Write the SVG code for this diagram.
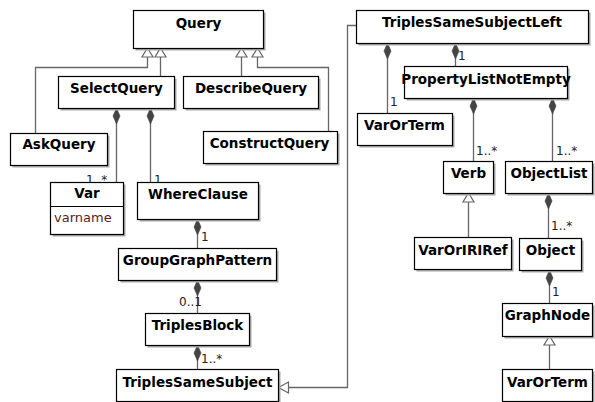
<svg xmlns="http://www.w3.org/2000/svg" width="595" height="402" viewBox="0 0 595 402">
  <style>
    .box { fill: #ffffff; stroke: #000000; stroke-width: 1.2; }
    .shadow { fill: #a8a8a8; }
    .name { font-family: "DejaVu Sans", sans-serif; font-weight: bold; font-size: 13.5px; fill: #000000; text-anchor: middle; }
    .attr { font-family: "DejaVu Sans", sans-serif; font-size: 13px; fill: #5a1c1c; }
    .mult { font-family: "DejaVu Sans", sans-serif; font-size: 12px; fill: #222222; }
    .line { fill: none; stroke: #666666; stroke-width: 1.3; }
    .diamond { fill: #444444; stroke: #444444; stroke-width: 0.6; }
    .tri { fill: #ffffff; stroke: #666666; stroke-width: 1.2; }
  </style>
  <defs>
    <!-- composition diamond, anchored at its top point -->
    <polygon id="dia" class="diamond" points="0,0 3.5,8 0,16 -3.5,8"/>
    <!-- generalization arrowhead, tip at origin pointing up -->
    <polygon id="triUp" class="tri" points="0,0 5.5,9 -5.5,9"/>
  </defs>

  <rect width="595" height="402" fill="#ffffff"/>

  <!-- connectors -->
  <g id="connectors">
    <!-- generalizations to Query -->
    <path class="line" d="M35.5,133 V67.5 H147.5 V57"/>
    <path class="line" d="M160.5,76 V57"/>
    <path class="line" d="M241.5,76 V57"/>
    <path class="line" d="M328.5,131 V67.5 H257.5 V57"/>
    <use href="#triUp" x="147.5" y="48"/>
    <use href="#triUp" x="160.5" y="48"/>
    <use href="#triUp" x="241.5" y="48"/>
    <use href="#triUp" x="257.5" y="48"/>

    <!-- compositions, left part -->
    <path class="line" d="M116.5,108 V182"/>
    <use href="#dia" x="116.5" y="108"/>
    <path class="line" d="M150.5,108 V182"/>
    <use href="#dia" x="150.5" y="108"/>
    <path class="line" d="M197.5,219 V248"/>
    <use href="#dia" x="197.5" y="219"/>
    <path class="line" d="M197.5,280 V313"/>
    <use href="#dia" x="197.5" y="280"/>
    <path class="line" d="M197.5,345 V369"/>
    <use href="#dia" x="197.5" y="345"/>

    <!-- TriplesSameSubjectLeft specializes TriplesSameSubject -->
    <path class="line" d="M356,25.5 H347.5 V387.5 H288"/>
    <polygon class="tri" points="278.5,387.5 288.5,382 288.5,393"/>

    <!-- compositions, right part -->
    <path class="line" d="M387.5,43 V113"/>
    <use href="#dia" x="387.5" y="43"/>
    <path class="line" d="M455.5,43 V66"/>
    <use href="#dia" x="455.5" y="43"/>
    <path class="line" d="M473.5,98 V161"/>
    <use href="#dia" x="473.5" y="98"/>
    <path class="line" d="M552.5,98 V161"/>
    <use href="#dia" x="552.5" y="98"/>
    <path class="line" d="M548.5,193 V238"/>
    <use href="#dia" x="548.5" y="193"/>
    <path class="line" d="M549.5,270 V303"/>
    <use href="#dia" x="549.5" y="270"/>

    <!-- generalizations, right part -->
    <path class="line" d="M468.5,237 V202"/>
    <use href="#triUp" x="468.5" y="193"/>
    <path class="line" d="M549.5,369 V345"/>
    <use href="#triUp" x="549.5" y="336"/>

    <!-- multiplicities -->
    <text class="mult" x="86" y="184">1..*</text>
    <text class="mult" x="154" y="184">1</text>
    <text class="mult" x="201" y="241">1</text>
    <text class="mult" x="179" y="306">0..1</text>
    <text class="mult" x="201" y="363">1..*</text>
    <text class="mult" x="390" y="106">1</text>
    <text class="mult" x="458" y="60">1</text>
    <text class="mult" x="476" y="155">1..*</text>
    <text class="mult" x="556" y="155">1..*</text>
    <text class="mult" x="551" y="230">1..*</text>
    <text class="mult" x="552" y="296">1</text>
  </g>

  <!-- nodes -->
  <g id="Query">
    <rect class="shadow" x="135.5" y="12.5" width="130" height="38"/>
    <rect class="box" x="133.5" y="10.5" width="130" height="38"/>
    <text class="name" x="198.5" y="28">Query</text>
  </g>
  <g id="SelectQuery">
    <rect class="shadow" x="60.5" y="78.5" width="116" height="32"/>
    <rect class="box" x="58.5" y="76.5" width="116" height="32"/>
    <text class="name" x="116.5" y="93">SelectQuery</text>
  </g>
  <g id="DescribeQuery">
    <rect class="shadow" x="185.5" y="78.5" width="135" height="32"/>
    <rect class="box" x="183.5" y="76.5" width="135" height="32"/>
    <text class="name" x="251" y="93">DescribeQuery</text>
  </g>
  <g id="AskQuery">
    <rect class="shadow" x="12.5" y="135.5" width="97" height="32"/>
    <rect class="box" x="10.5" y="133.5" width="97" height="32"/>
    <text class="name" x="59" y="149">AskQuery</text>
  </g>
  <g id="ConstructQuery">
    <rect class="shadow" x="205.5" y="133.5" width="134" height="32"/>
    <rect class="box" x="203.5" y="131.5" width="134" height="32"/>
    <text class="name" x="269.5" y="148">ConstructQuery</text>
  </g>
  <g id="Var">
    <rect class="shadow" x="52.5" y="184.5" width="73" height="52"/>
    <rect class="box" x="50.5" y="182.5" width="73" height="52"/>
    <line x1="50.5" y1="206.5" x2="123.5" y2="206.5" stroke="#000000" stroke-width="1.2"/>
    <text class="name" x="87" y="198">Var</text>
    <text class="attr" x="54" y="222">varname</text>
  </g>
  <g id="WhereClause">
    <rect class="shadow" x="139.5" y="184.5" width="121" height="37"/>
    <rect class="box" x="137.5" y="182.5" width="121" height="37"/>
    <text class="name" x="198" y="199">WhereClause</text>
  </g>
  <g id="GroupGraphPattern">
    <rect class="shadow" x="120.5" y="250.5" width="158" height="32"/>
    <rect class="box" x="118.5" y="248.5" width="158" height="32"/>
    <text class="name" x="197.5" y="265">GroupGraphPattern</text>
  </g>
  <g id="TriplesBlock">
    <rect class="shadow" x="147.5" y="315.5" width="104" height="32"/>
    <rect class="box" x="145.5" y="313.5" width="104" height="32"/>
    <text class="name" x="197.5" y="330">TriplesBlock</text>
  </g>
  <g id="TriplesSameSubject">
    <rect class="shadow" x="118.5" y="371.5" width="162" height="32"/>
    <rect class="box" x="116.5" y="369.5" width="162" height="32"/>
    <text class="name" x="197.5" y="387">TriplesSameSubject</text>
  </g>
  <g id="TriplesSameSubjectLeft">
    <rect class="shadow" x="358.5" y="12.5" width="232" height="33"/>
    <rect class="box" x="356.5" y="10.5" width="232" height="33"/>
    <text class="name" x="472" y="27">TriplesSameSubjectLeft</text>
  </g>
  <g id="PropertyListNotEmpty">
    <rect class="shadow" x="406.5" y="68.5" width="163" height="32"/>
    <rect class="box" x="404.5" y="66.5" width="163" height="32"/>
    <text class="name" x="486" y="84">PropertyListNotEmpty</text>
  </g>
  <g id="VarOrTerm1">
    <rect class="shadow" x="359.5" y="115.5" width="95" height="32"/>
    <rect class="box" x="357.5" y="113.5" width="95" height="32"/>
    <text class="name" x="404.5" y="130">VarOrTerm</text>
  </g>
  <g id="Verb">
    <rect class="shadow" x="445.5" y="163.5" width="50" height="32"/>
    <rect class="box" x="443.5" y="161.5" width="50" height="32"/>
    <text class="name" x="468.5" y="178">Verb</text>
  </g>
  <g id="ObjectList">
    <rect class="shadow" x="507.5" y="163.5" width="87" height="32"/>
    <rect class="box" x="505.5" y="161.5" width="87" height="32"/>
    <text class="name" x="549" y="178">ObjectList</text>
  </g>
  <g id="VarOrIRIRef">
    <rect class="shadow" x="416.5" y="239.5" width="97" height="32"/>
    <rect class="box" x="414.5" y="237.5" width="97" height="32"/>
    <text class="name" x="463" y="255">VarOrIRIRef</text>
  </g>
  <g id="Object">
    <rect class="shadow" x="521.5" y="240.5" width="62" height="32"/>
    <rect class="box" x="519.5" y="238.5" width="62" height="32"/>
    <text class="name" x="550.5" y="255">Object</text>
  </g>
  <g id="GraphNode">
    <rect class="shadow" x="504.5" y="305.5" width="90" height="33"/>
    <rect class="box" x="502.5" y="303.5" width="90" height="33"/>
    <text class="name" x="547.5" y="320">GraphNode</text>
  </g>
  <g id="VarOrTerm2">
    <rect class="shadow" x="504.5" y="371.5" width="90" height="32"/>
    <rect class="box" x="502.5" y="369.5" width="90" height="32"/>
    <text class="name" x="547.5" y="387">VarOrTerm</text>
  </g>
</svg>
